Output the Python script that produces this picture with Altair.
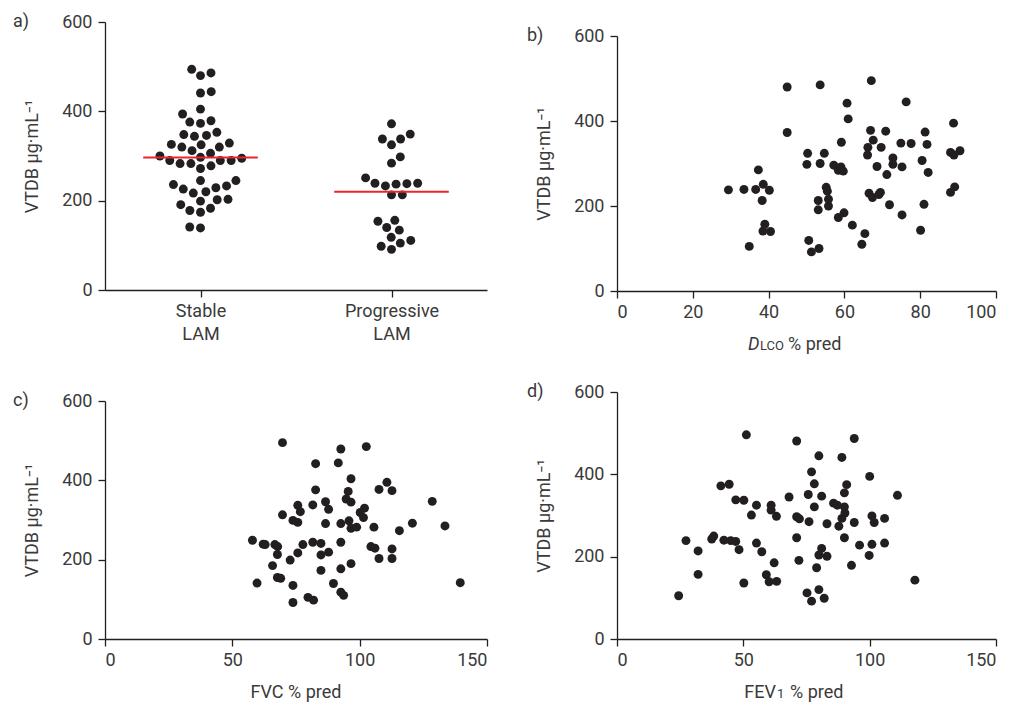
import altair as alt
import pandas as pd

FONT = "Roboto"
INK = "#231f20"
TXT = "#3a3a3a"
RED = "#e8262b"

# ---- panel a: VTDB by group ----
groups = ["Stable LAM", "Progressive LAM"]
stable_vtdb = [494, 480, 486, 444, 441, 405, 394, 379, 373, 376, 353, 348, 344, 346, 326, 320,
               312, 320, 325, 329, 300, 295, 290, 283, 278, 272, 283, 290, 290, 297, 306, 245,
               233, 226, 217, 220, 229, 236, 245, 203, 199, 183, 174, 178, 191, 202, 139, 141]
progressive_vtdb = [372, 338, 338, 325, 349, 298, 284, 239, 238, 233, 251, 213, 213, 237, 239,
                    156, 140, 134, 154, 118, 105, 91, 98, 111]

# ---- panel b: DLCO % pred ----
dlco_pred = [29.4, 33.5, 36.6, 37.3, 38.6, 40.2, 38.3, 39.0, 38.5, 40.5,
             34.9, 44.9, 44.9, 53.6, 50.3, 50.1, 54.7, 53.6, 55.2, 55.5,
             53.1, 53.1, 55.8, 55.8, 50.6, 51.3, 53.3, 57.2, 58.4, 59.1,
             59.7, 59.2, 60.7, 61.0, 58.4, 59.9, 62.1, 65.4, 64.6, 67.1,
             66.9, 67.6, 66.2, 66.1, 69.7, 68.6, 70.9, 72.8, 72.8, 71.2,
             75.2, 74.9, 77.6, 76.3, 66.5, 67.4, 69.5, 69.1, 71.9, 75.2,
             81.3, 81.8, 80.5, 82.1, 81.0, 80.1, 88.8, 88.0, 88.9, 90.5,
             88.0, 89.1]
dlco_vtdb = [238, 239, 239, 285, 251, 237, 213, 157, 141, 140,
             105, 480, 373, 485, 324, 298, 324, 300, 244, 235,
             213, 191, 216, 200, 119, 92, 100, 296, 284, 292,
             282, 350, 442, 405, 173, 184, 155, 135, 110, 495,
             378, 355, 338, 320, 338, 293, 376, 313, 298, 274,
             292, 348, 347, 445, 230, 220, 232, 227, 203, 179,
             374, 345, 307, 279, 204, 143, 395, 326, 320, 330,
             232, 245]

# ---- panel c: FVC % pred ----
fvc_pred = [69.7, 92.6, 102.6, 82.7, 91.6, 96.6, 110.7, 82.7, 107.6, 112.7,
            95.5, 94.7, 96.6, 86.6, 75.7, 81.6, 76.7, 87.8, 128.5, 101.9,
            100.2, 101.5, 69.7, 73.8, 75.7, 86.6, 92.6, 95.8, 96.6, 98.8,
            105.6, 120.7, 133.5, 115.6, 57.9, 62.1, 62.9, 66.7, 67.8, 77.7,
            81.6, 84.8, 92.6, 67.7, 75.7, 84.8, 87.8, 104.4, 106.0, 112.7,
            107.6, 112.7, 72.7, 65.8, 84.8, 92.6, 96.6, 59.7, 67.7, 69.0,
            73.8, 89.7, 139.5, 92.6, 93.7, 79.7, 81.9, 73.8]
fvc_vtdb = [495, 479, 485, 442, 444, 404, 395, 376, 377, 374,
            372, 353, 345, 346, 337, 338, 321, 327, 347, 330,
            319, 306, 313, 299, 294, 291, 291, 298, 279, 282,
            282, 292, 285, 273, 249, 239, 238, 238, 233, 238,
            244, 241, 244, 213, 217, 212, 219, 233, 229, 227,
            203, 203, 199, 185, 173, 177, 190, 141, 155, 153,
            135, 140, 142, 118, 110, 105, 98, 92]

# ---- panel d: FEV1 % pred ----
fev1_pred = [51.2, 71.1, 93.9, 79.9, 89.0, 77.0, 100.0, 41.1, 44.4, 78.1,
             90.9, 90.0, 68.1, 75.7, 81.0, 111.0, 47.0, 50.2, 55.2, 61.0,
             61.0, 63.1, 53.2, 78.1, 85.7, 87.2, 90.0, 90.2, 89.0, 87.8,
             71.1, 72.2, 76.0, 83.1, 93.9, 100.9, 101.8, 105.9, 27.3, 37.5,
             38.3, 42.3, 45.0, 47.0, 48.3, 32.1, 55.2, 57.3, 71.1, 90.0,
             96.0, 100.9, 105.9, 81.0, 79.9, 83.1, 99.8, 72.0, 92.8, 79.0,
             62.2, 32.1, 59.1, 60.2, 63.2, 50.2, 117.9, 24.4, 75.2, 79.9,
             77.0, 82.0]
fev1_vtdb = [496, 481, 487, 445, 441, 406, 395, 372, 376, 377,
             375, 355, 345, 351, 347, 349, 338, 337, 325, 325,
             313, 298, 301, 321, 330, 325, 321, 306, 293, 274,
             297, 292, 285, 280, 283, 299, 283, 293, 239, 243,
             250, 240, 239, 237, 217, 214, 233, 212, 246, 246,
             228, 230, 233, 220, 204, 201, 203, 191, 179, 173,
             185, 157, 156, 139, 140, 136, 143, 105, 112, 120,
             92, 99]

y_ticks = [0, 200, 400, 600]
Y_TITLE = "VTDB µg·mL⁻¹"

# panel plot areas: width, height of the y axis, extra space above the y axis
WA, HA, TA = 382, 268, 0
WB, HB, TB = 379, 255, 14
WC, HC, TC = 382, 238, 9
WD, HD, TD = 379, 247, 0
DOT = 80


def swarm_offsets(values, py, px, diam):
    """Greedy beeswarm layout: horizontal offsets (data units) that avoid overlap."""
    order = sorted(range(len(values)), key=lambda i: values[i])
    placed = []
    offs = [0.0] * len(values)
    side = 1
    for i in order:
        y = values[i] * py
        forb = []
        for xp, yp in placed:
            dy = abs(y - yp)
            if dy < diam:
                dx = (diam ** 2 - dy ** 2) ** 0.5
                forb.append((xp - dx, xp + dx))
        cands = [0.0] + [a for a, b in forb] + [b for a, b in forb]
        cands.sort(key=lambda c: (round(abs(c), 6), -side * c))
        x = 0.0
        for c in cands:
            if all(not (a + 1e-6 < c < b - 1e-6) for a, b in forb):
                x = c
                break
        side = -side
        placed.append((x, y))
        offs[i] = x / px
    return offs


py_a = HA / 600.0
px_a = WA / 2.0
rows = []
for gi, (g, vals) in enumerate(zip(groups, [stable_vtdb, progressive_vtdb])):
    offs = swarm_offsets(vals, py_a, px_a, 10.8)
    for v, o in zip(vals, offs):
        rows.append({"group": g, "center": gi + 0.5, "xpos": gi + 0.5 + o, "vtdb": v})
df_a = pd.DataFrame(rows)


def y_enc(field, h, top):
    return alt.Y(field, scale=alt.Scale(domain=[0, 600], nice=False, range=[h + top, top]),
                 axis=alt.Axis(values=y_ticks, title=Y_TITLE))


def panel_label(t, dx, top):
    return alt.Chart(pd.DataFrame({"t": [t]})).mark_text(
        align="left", baseline="middle", fontSize=18, font=FONT, color=TXT
    ).encode(text="t:N", x=alt.value(dx), y=alt.value(top))


def text_piece(t, x, y, size=18, italic=False, align="left"):
    return alt.Chart(pd.DataFrame({"t": [t]})).mark_text(
        align=align, baseline="alphabetic", fontSize=size, font=FONT, color=TXT,
        fontStyle="italic" if italic else "normal"
    ).encode(text="t:N", x=alt.value(x), y=alt.value(y))


# ---- panel a ----
base_a = alt.Chart(df_a)
pts_a = base_a.mark_circle(size=DOT, color=INK, opacity=1).encode(
    x=alt.X("xpos:Q", scale=alt.Scale(domain=[0, 2], nice=False, zero=False),
            axis=alt.Axis(values=[0.5, 1.5], title=None,
                          labelExpr="datum.value < 1 ? ['Stable','LAM'] : ['Progressive','LAM']")),
    y=y_enc("vtdb:Q", HA, TA),
)
mean_a = base_a.transform_aggregate(
    m="mean(vtdb)", c="mean(center)", groupby=["group"]
).transform_calculate(x1="datum.c - 0.3", x2="datum.c + 0.3").mark_rule(
    color=RED, strokeWidth=2
).encode(x="x1:Q", x2="x2:Q", y="m:Q")
chart_a = alt.layer(pts_a, mean_a, panel_label("a)", -92, TA)).properties(width=WA, height=HA + TA)


def scatter(xv, yv, xticks, xmax, w, h, top, lab, dx, title_parts):
    df = pd.DataFrame({"x": xv, "y": yv})
    pts = alt.Chart(df).mark_circle(size=DOT, color=INK, opacity=1).encode(
        x=alt.X("x:Q", scale=alt.Scale(domain=[0, xmax], nice=False),
                axis=alt.Axis(values=xticks, title=None)),
        y=y_enc("y:Q", h, top),
    )
    layers = [pts, panel_label(lab, dx, top)]
    for args in title_parts:
        layers.append(text_piece(*args[:2], h + top + 59, **args[2]))
    return alt.layer(*layers).properties(width=w, height=h + top)


chart_b = scatter(dlco_pred, dlco_vtdb, [0, 20, 40, 60, 80, 100], 100, WB, HB, TB, "b)", -90,
                  [("D", 131, {"italic": True}), ("LCO", 143, {"size": 13}),
                   ("% pred", 171, {})])
chart_c = scatter(fvc_pred, fvc_vtdb, [0, 50, 100, 150], 150, WC, HC, TC, "c)", -92,
                  [("FVC % pred", WC / 2, {"align": "center"})])
chart_d = scatter(fev1_pred, fev1_vtdb, [0, 50, 100, 150], 150, WD, HD, TD, "d)", -90,
                  [("FEV", 159, {"align": "right"}), ("1", 160, {"size": 13}),
                   ("% pred", 173, {})])

row1 = alt.hconcat(chart_a, chart_b, spacing=40)
row2 = alt.hconcat(chart_c, chart_d, spacing=39)
chart = alt.vconcat(row1, row2, spacing=29).configure_view(stroke=None).configure_axis(
    grid=False, labelFont=FONT, titleFont=FONT, labelFontSize=18, titleFontSize=18,
    labelColor=TXT, titleColor=TXT, titleFontWeight="normal",
    domainColor=INK, tickColor=INK, domainWidth=1.3, tickWidth=1.3, tickSize=7,
    labelPadding=5, titlePadding=20, labelLineHeight=23
).configure_axisY(labelPadding=6)

chart.save("out.html", embed_options={"renderer": "svg", "actions": False})
